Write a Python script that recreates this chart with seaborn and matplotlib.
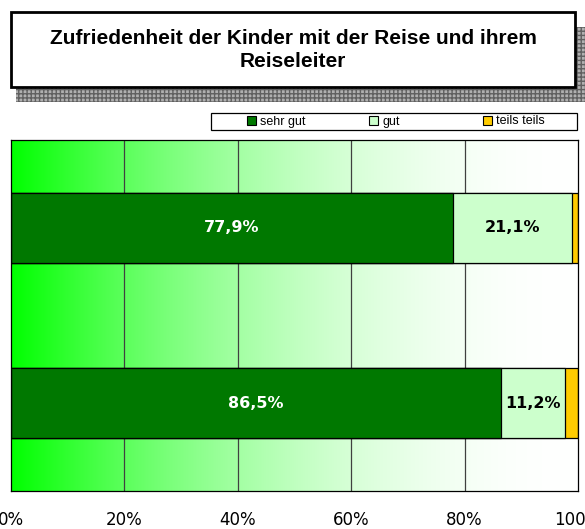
import numpy as np
import pandas as pd
import matplotlib
matplotlib.use("Agg")
import matplotlib.pyplot as plt
import seaborn as sns
from matplotlib.patches import Rectangle, Patch

# data (percent of children)
kategorien = ["Reise", "Reiseleiter"]
sehr_gut = [77.9, 86.5]
gut = [21.1, 11.2]
teils_teils = [1.0, 2.3]

serien = ["sehr gut", "gut", "teils teils"]
farben = ["#007800", "#ccffcc", "#ffcc00"]

df = pd.DataFrame({"kat": kategorien, "sehr gut": sehr_gut,
                   "gut": gut, "teils teils": teils_teils})
cum = df[serien].cumsum(axis=1)

sns.set_style("white")
plt.rcParams["font.family"] = ["Liberation Sans", "DejaVu Sans"]
plt.rcParams["text.color"] = "black"

W, H = 585, 529
fig = plt.figure(figsize=(W / 100, H / 100), dpi=100)
ax = fig.add_axes([11 / W, 1 - 491 / H, 567 / W, 351 / H])

# gradient background, bright green -> white
t = np.linspace(0, 1, 400)
rb = 1 - (1 - t) ** 2
grad = np.stack([rb, np.ones_like(t), rb], axis=-1)[None, :, :]
ax.imshow(grad, extent=[0, 1, 0, 1], transform=ax.transAxes,
          aspect="auto", zorder=0, interpolation="bilinear")

# stacked bars: draw cumulative totals from the back to the front
for s, c in zip(serien[::-1], farben[::-1]):
    sns.barplot(x=cum[s], y=df["kat"], orient="h", color=c, width=0.4,
                edgecolor="black", linewidth=0.9, saturation=1, ax=ax, zorder=3)

ax.set_xlim(0, 100)
ax.set_ylim(1.5, -0.5)
ax.set_xlabel("")
ax.set_ylabel("")

for x in [20, 40, 60, 80]:
    ax.axvline(x, color="#404040", lw=0.9, zorder=1)

ax.set_xticks([0, 20, 40, 60, 80, 100])
ax.set_xticklabels([f"{v}%" for v in [0, 20, 40, 60, 80, 100]],
                   fontfamily="DejaVu Sans", fontsize=12, color="black")
ax.set_yticks([-0.5, 0.5, 1.5])
ax.set_yticklabels([])
ax.tick_params(axis="x", direction="out", length=3.6, width=0.9, color="black", pad=10.5)
ax.tick_params(axis="y", direction="out", length=4.5, width=0.9, color="#606060")
for sp in ax.spines.values():
    sp.set_visible(True)
    sp.set_color("black")
    sp.set_linewidth(0.9)
    sp.set_zorder(4)

# value labels
def fmt(v):
    return f"{v:.1f}%".replace(".", ",")

for i in range(len(kategorien)):
    ax.text(sehr_gut[i] / 2, i, fmt(sehr_gut[i]), ha="center", va="center",
            color="white", fontweight="bold", fontsize=11.5,
            fontfamily="DejaVu Sans", zorder=5)
    ax.text(sehr_gut[i] + gut[i] / 2, i, fmt(gut[i]), ha="center", va="center",
            color="black", fontweight="bold", fontsize=11.5,
            fontfamily="DejaVu Sans", zorder=5)

# title box with patterned shadow
shadow = Rectangle((16 / W, 1 - 102 / H), 580 / W, 75 / H, transform=fig.transFigure,
                   facecolor="#b0b0b0", edgecolor="#606060", hatch="++++", lw=0, zorder=1)
fig.patches.append(shadow)
box = Rectangle((11 / W, 1 - 87 / H), 564 / W, 75 / H, transform=fig.transFigure,
                facecolor="white", edgecolor="black", lw=2, zorder=2)
fig.patches.append(box)
fig.text(293 / W, 1 - 50 / H,
         "Zufriedenheit der Kinder mit der Reise und ihrem\nReiseleiter",
         ha="center", va="center", fontsize=15, fontweight="bold",
         linespacing=1.3, color="black", zorder=3)

# legend: frame plus one entry per column at the picture's positions
lbox = Rectangle((211 / W, 1 - 130 / H), 366 / W, 17 / H, transform=fig.transFigure,
                 facecolor="white", edgecolor="black", lw=0.9)
fig.patches.append(lbox)
for s, c, xpos in zip(serien, farben, [247, 369, 483]):
    fig.legend([Patch(facecolor=c, edgecolor="black", lw=0.8)], [s],
               loc="center left", bbox_to_anchor=(xpos / W, 1 - 121.5 / H),
               frameon=False, fontsize=9, handlelength=0.75, handleheight=0.75,
               handletextpad=0.3, borderpad=0, borderaxespad=0)

fig.savefig("out.png", dpi=100)
